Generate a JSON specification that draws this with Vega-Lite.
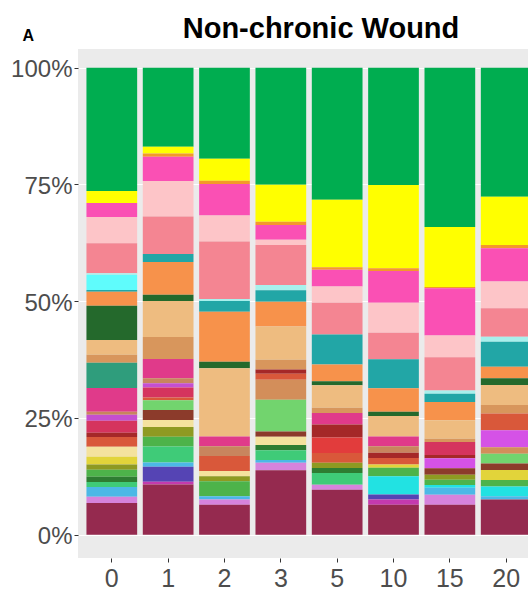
{
  "$schema": "https://vega.github.io/schema/vega-lite/v6.json",
  "autosize": {"type": "none"},
  "padding": {"left": 78, "top": 49, "right": 0, "bottom": 38},
  "width": 450,
  "height": 509,
  "background": "white",
  "title": {
    "text": "Non-chronic Wound",
    "font": "Liberation Sans, Arial, sans-serif",
    "fontSize": 29,
    "fontWeight": "bold",
    "color": "black",
    "anchor": "middle",
    "dx": 18,
    "baseline": "alphabetic",
    "offset": -40
  },
  "data": {
    "values": [
      {"day": "0", "taxon": "OTU37", "pct": 26.4},
      {"day": "0", "taxon": "OTU36", "pct": 2.6},
      {"day": "0", "taxon": "OTU34", "pct": 3.0},
      {"day": "0", "taxon": "OTU33", "pct": 5.6},
      {"day": "0", "taxon": "OTU32", "pct": 6.4},
      {"day": "0", "taxon": "OTU31", "pct": 0.4},
      {"day": "0", "taxon": "OTU30", "pct": 3.2},
      {"day": "0", "taxon": "OTU29", "pct": 0.4},
      {"day": "0", "taxon": "OTU28", "pct": 3.0},
      {"day": "0", "taxon": "OTU27", "pct": 7.3},
      {"day": "0", "taxon": "OTU26", "pct": 3.2},
      {"day": "0", "taxon": "OTU25", "pct": 1.7},
      {"day": "0", "taxon": "OTU24", "pct": 5.4},
      {"day": "0", "taxon": "OTU23", "pct": 5.1},
      {"day": "0", "taxon": "OTU22", "pct": 0.6},
      {"day": "0", "taxon": "OTU21", "pct": 1.3},
      {"day": "0", "taxon": "OTU20", "pct": 2.6},
      {"day": "0", "taxon": "OTU19", "pct": 0.9},
      {"day": "0", "taxon": "OTU17", "pct": 2.1},
      {"day": "0", "taxon": "OTU12", "pct": 2.1},
      {"day": "0", "taxon": "OTU11", "pct": 1.7},
      {"day": "0", "taxon": "OTU10", "pct": 1.1},
      {"day": "0", "taxon": "OTU09", "pct": 1.5},
      {"day": "0", "taxon": "OTU08", "pct": 1.1},
      {"day": "0", "taxon": "OTU07", "pct": 1.1},
      {"day": "0", "taxon": "OTU05", "pct": 2.1},
      {"day": "0", "taxon": "OTU03", "pct": 1.3},
      {"day": "0", "taxon": "OTU01", "pct": 6.8},

      {"day": "1", "taxon": "OTU37", "pct": 16.9},
      {"day": "1", "taxon": "OTU36", "pct": 1.4},
      {"day": "1", "taxon": "OTU35", "pct": 0.7},
      {"day": "1", "taxon": "OTU34", "pct": 5.2},
      {"day": "1", "taxon": "OTU33", "pct": 7.6},
      {"day": "1", "taxon": "OTU32", "pct": 8.0},
      {"day": "1", "taxon": "OTU29", "pct": 1.7},
      {"day": "1", "taxon": "OTU28", "pct": 7.0},
      {"day": "1", "taxon": "OTU27", "pct": 1.3},
      {"day": "1", "taxon": "OTU26", "pct": 7.7},
      {"day": "1", "taxon": "OTU25", "pct": 4.7},
      {"day": "1", "taxon": "OTU23", "pct": 4.1},
      {"day": "1", "taxon": "OTU22", "pct": 1.1},
      {"day": "1", "taxon": "OTU21", "pct": 0.9},
      {"day": "1", "taxon": "OTU20", "pct": 2.1},
      {"day": "1", "taxon": "OTU17", "pct": 0.6},
      {"day": "1", "taxon": "OTU14", "pct": 2.1},
      {"day": "1", "taxon": "OTU13", "pct": 2.1},
      {"day": "1", "taxon": "OTU12", "pct": 1.5},
      {"day": "1", "taxon": "OTU10", "pct": 2.1},
      {"day": "1", "taxon": "OTU09", "pct": 2.1},
      {"day": "1", "taxon": "OTU07", "pct": 3.4},
      {"day": "1", "taxon": "OTU05", "pct": 0.9},
      {"day": "1", "taxon": "OTU04", "pct": 3.2},
      {"day": "1", "taxon": "OTU02", "pct": 0.6},
      {"day": "1", "taxon": "OTU01", "pct": 10.7},

      {"day": "2", "taxon": "OTU37", "pct": 19.5},
      {"day": "2", "taxon": "OTU36", "pct": 4.7},
      {"day": "2", "taxon": "OTU35", "pct": 0.7},
      {"day": "2", "taxon": "OTU34", "pct": 6.7},
      {"day": "2", "taxon": "OTU33", "pct": 5.6},
      {"day": "2", "taxon": "OTU32", "pct": 12.3},
      {"day": "2", "taxon": "OTU31", "pct": 0.4},
      {"day": "2", "taxon": "OTU29", "pct": 2.3},
      {"day": "2", "taxon": "OTU28", "pct": 10.7},
      {"day": "2", "taxon": "OTU27", "pct": 1.4},
      {"day": "2", "taxon": "OTU26", "pct": 14.6},
      {"day": "2", "taxon": "OTU23", "pct": 2.1},
      {"day": "2", "taxon": "OTU22", "pct": 2.1},
      {"day": "2", "taxon": "OTU17", "pct": 3.2},
      {"day": "2", "taxon": "OTU12", "pct": 1.1},
      {"day": "2", "taxon": "OTU10", "pct": 1.1},
      {"day": "2", "taxon": "OTU09", "pct": 3.2},
      {"day": "2", "taxon": "OTU05", "pct": 0.7},
      {"day": "2", "taxon": "OTU03", "pct": 1.1},
      {"day": "2", "taxon": "OTU01", "pct": 6.4},

      {"day": "3", "taxon": "OTU37", "pct": 25.1},
      {"day": "3", "taxon": "OTU36", "pct": 7.9},
      {"day": "3", "taxon": "OTU35", "pct": 0.7},
      {"day": "3", "taxon": "OTU34", "pct": 3.2},
      {"day": "3", "taxon": "OTU33", "pct": 1.1},
      {"day": "3", "taxon": "OTU32", "pct": 8.6},
      {"day": "3", "taxon": "OTU31", "pct": 1.1},
      {"day": "3", "taxon": "OTU29", "pct": 2.5},
      {"day": "3", "taxon": "OTU28", "pct": 5.3},
      {"day": "3", "taxon": "OTU26", "pct": 7.1},
      {"day": "3", "taxon": "OTU25", "pct": 2.1},
      {"day": "3", "taxon": "OTU19", "pct": 0.9},
      {"day": "3", "taxon": "OTU17", "pct": 1.3},
      {"day": "3", "taxon": "OTU15", "pct": 4.3},
      {"day": "3", "taxon": "OTU14", "pct": 6.8},
      {"day": "3", "taxon": "OTU13", "pct": 1.1},
      {"day": "3", "taxon": "OTU12", "pct": 1.8},
      {"day": "3", "taxon": "OTU08", "pct": 1.1},
      {"day": "3", "taxon": "OTU07", "pct": 2.1},
      {"day": "3", "taxon": "OTU05", "pct": 0.6},
      {"day": "3", "taxon": "OTU03", "pct": 1.6},
      {"day": "3", "taxon": "OTU01", "pct": 13.8},

      {"day": "5", "taxon": "OTU37", "pct": 28.3},
      {"day": "5", "taxon": "OTU36", "pct": 14.5},
      {"day": "5", "taxon": "OTU35", "pct": 0.5},
      {"day": "5", "taxon": "OTU34", "pct": 3.6},
      {"day": "5", "taxon": "OTU33", "pct": 3.5},
      {"day": "5", "taxon": "OTU32", "pct": 6.8},
      {"day": "5", "taxon": "OTU29", "pct": 6.4},
      {"day": "5", "taxon": "OTU28", "pct": 3.6},
      {"day": "5", "taxon": "OTU27", "pct": 0.9},
      {"day": "5", "taxon": "OTU26", "pct": 4.8},
      {"day": "5", "taxon": "OTU25", "pct": 1.1},
      {"day": "5", "taxon": "OTU23", "pct": 2.5},
      {"day": "5", "taxon": "OTU19", "pct": 2.8},
      {"day": "5", "taxon": "OTU18", "pct": 3.3},
      {"day": "5", "taxon": "OTU17", "pct": 2.1},
      {"day": "5", "taxon": "OTU10", "pct": 1.1},
      {"day": "5", "taxon": "OTU08", "pct": 1.1},
      {"day": "5", "taxon": "OTU07", "pct": 2.5},
      {"day": "5", "taxon": "OTU03", "pct": 1.1},
      {"day": "5", "taxon": "OTU01", "pct": 9.6},

      {"day": "10", "taxon": "OTU37", "pct": 25.1},
      {"day": "10", "taxon": "OTU36", "pct": 17.8},
      {"day": "10", "taxon": "OTU35", "pct": 0.6},
      {"day": "10", "taxon": "OTU34", "pct": 6.8},
      {"day": "10", "taxon": "OTU33", "pct": 6.4},
      {"day": "10", "taxon": "OTU32", "pct": 5.7},
      {"day": "10", "taxon": "OTU29", "pct": 6.2},
      {"day": "10", "taxon": "OTU28", "pct": 5.0},
      {"day": "10", "taxon": "OTU27", "pct": 0.9},
      {"day": "10", "taxon": "OTU26", "pct": 4.4},
      {"day": "10", "taxon": "OTU23", "pct": 2.1},
      {"day": "10", "taxon": "OTU22", "pct": 1.4},
      {"day": "10", "taxon": "OTU19", "pct": 1.1},
      {"day": "10", "taxon": "OTU17", "pct": 1.4},
      {"day": "10", "taxon": "OTU11", "pct": 0.7},
      {"day": "10", "taxon": "OTU09", "pct": 1.8},
      {"day": "10", "taxon": "OTU06", "pct": 3.9},
      {"day": "10", "taxon": "OTU04", "pct": 1.1},
      {"day": "10", "taxon": "OTU02", "pct": 1.1},
      {"day": "10", "taxon": "OTU01", "pct": 6.4},

      {"day": "15", "taxon": "OTU37", "pct": 34.0},
      {"day": "15", "taxon": "OTU36", "pct": 12.8},
      {"day": "15", "taxon": "OTU35", "pct": 0.3},
      {"day": "15", "taxon": "OTU34", "pct": 10.1},
      {"day": "15", "taxon": "OTU33", "pct": 4.6},
      {"day": "15", "taxon": "OTU32", "pct": 7.1},
      {"day": "15", "taxon": "OTU31", "pct": 0.7},
      {"day": "15", "taxon": "OTU29", "pct": 1.8},
      {"day": "15", "taxon": "OTU28", "pct": 3.9},
      {"day": "15", "taxon": "OTU26", "pct": 3.9},
      {"day": "15", "taxon": "OTU25", "pct": 0.7},
      {"day": "15", "taxon": "OTU20", "pct": 2.8},
      {"day": "15", "taxon": "OTU19", "pct": 0.7},
      {"day": "15", "taxon": "OTU16", "pct": 2.1},
      {"day": "15", "taxon": "OTU13", "pct": 1.4},
      {"day": "15", "taxon": "OTU10", "pct": 1.1},
      {"day": "15", "taxon": "OTU09", "pct": 1.1},
      {"day": "15", "taxon": "OTU06", "pct": 0.6},
      {"day": "15", "taxon": "OTU05", "pct": 1.5},
      {"day": "15", "taxon": "OTU03", "pct": 2.1},
      {"day": "15", "taxon": "OTU01", "pct": 6.4},

      {"day": "20", "taxon": "OTU37", "pct": 27.6},
      {"day": "20", "taxon": "OTU36", "pct": 10.3},
      {"day": "20", "taxon": "OTU35", "pct": 0.7},
      {"day": "20", "taxon": "OTU34", "pct": 7.1},
      {"day": "20", "taxon": "OTU33", "pct": 5.7},
      {"day": "20", "taxon": "OTU32", "pct": 6.1},
      {"day": "20", "taxon": "OTU31", "pct": 1.1},
      {"day": "20", "taxon": "OTU29", "pct": 5.3},
      {"day": "20", "taxon": "OTU28", "pct": 2.5},
      {"day": "20", "taxon": "OTU27", "pct": 1.4},
      {"day": "20", "taxon": "OTU26", "pct": 4.3},
      {"day": "20", "taxon": "OTU25", "pct": 1.8},
      {"day": "20", "taxon": "OTU17", "pct": 3.6},
      {"day": "20", "taxon": "OTU16", "pct": 3.6},
      {"day": "20", "taxon": "OTU15", "pct": 1.4},
      {"day": "20", "taxon": "OTU14", "pct": 2.1},
      {"day": "20", "taxon": "OTU13", "pct": 1.4},
      {"day": "20", "taxon": "OTU11", "pct": 2.1},
      {"day": "20", "taxon": "OTU09", "pct": 1.4},
      {"day": "20", "taxon": "OTU06", "pct": 2.1},
      {"day": "20", "taxon": "OTU05", "pct": 0.7},
      {"day": "20", "taxon": "OTU01", "pct": 7.5}
    ]
  },
  "mark": {"type": "bar", "clip": true},
  "encoding": {
    "x": {
      "field": "day",
      "type": "ordinal",
      "sort": ["0", "1", "2", "3", "5", "10", "15", "20"],
      "scale": {"range": [0, 462], "paddingInner": 0.1, "paddingOuter": 0.15},
      "axis": {
        "title": null,
        "domain": false,
        "labelAngle": 0,
        "labelFont": "Liberation Sans, Arial, sans-serif",
        "labelFontSize": 25,
        "labelColor": "#4D4D4D",
        "labelPadding": 4,
        "tickColor": "#333333",
        "tickSize": 4,
        "grid": false
      }
    },
    "y": {
      "field": "pct",
      "type": "quantitative",
      "stack": "normalize",
      "scale": {"domain": [-0.05, 1.04], "nice": false, "zero": false},
      "axis": {
        "values": [0, 0.25, 0.5, 0.75, 1],
        "format": ".0%",
        "domain": false,
        "grid": true,
        "gridColor": "white",
        "gridWidth": 1,
        "labelFont": "Liberation Sans, Arial, sans-serif",
        "labelFontSize": 24,
        "labelColor": "#4D4D4D",
        "labelPadding": 2,
        "labelOffset": 2,
        "tickColor": "#333333",
        "tickSize": 4,
        "title": "A",
        "titleFont": "Liberation Sans, Arial, sans-serif",
        "titleFontSize": 16,
        "titleFontWeight": "bold",
        "titleColor": "black",
        "titleAngle": 0,
        "titleAlign": "left",
        "titleBaseline": "alphabetic",
        "titleX": -56,
        "titleY": -9
      }
    },
    "color": {
      "field": "taxon",
      "type": "nominal",
      "legend": null,
      "scale": {
        "domain": ["OTU01", "OTU02", "OTU03", "OTU04", "OTU05", "OTU06", "OTU07", "OTU08", "OTU09", "OTU10",
                   "OTU11", "OTU12", "OTU13", "OTU14", "OTU15", "OTU16", "OTU17", "OTU18", "OTU19", "OTU20",
                   "OTU21", "OTU22", "OTU23", "OTU24", "OTU25", "OTU26", "OTU27", "OTU28", "OTU29", "OTU30",
                   "OTU31", "OTU32", "OTU33", "OTU34", "OTU35", "OTU36", "OTU37"],
        "range": ["#952A4F", "#C43AAE", "#D683DC", "#5544B4", "#4CB8E6", "#22E2E2", "#3FCB78", "#2E7D32", "#4DB34A", "#8E9A22",
                  "#E2D43A", "#F4E29E", "#8C3B2B", "#72D46E", "#D38E5A", "#D552E6", "#D9583A", "#E23C3C", "#A52828", "#D5345E",
                  "#C54FD0", "#C8855E", "#E03A8A", "#2F9D7C", "#D8965C", "#EEBC80", "#24692C", "#F7924B", "#22A6A6", "#5FFCFC",
                  "#A8F0EC", "#F48592", "#FDC5C8", "#FA50B4", "#F4982A", "#FFFF00", "#00AD50"]
      }
    },
    "order": {"field": "taxon", "sort": "ascending"}
  },
  "config": {
    "view": {"fill": "#EBEBEB", "stroke": null}
  }
}
